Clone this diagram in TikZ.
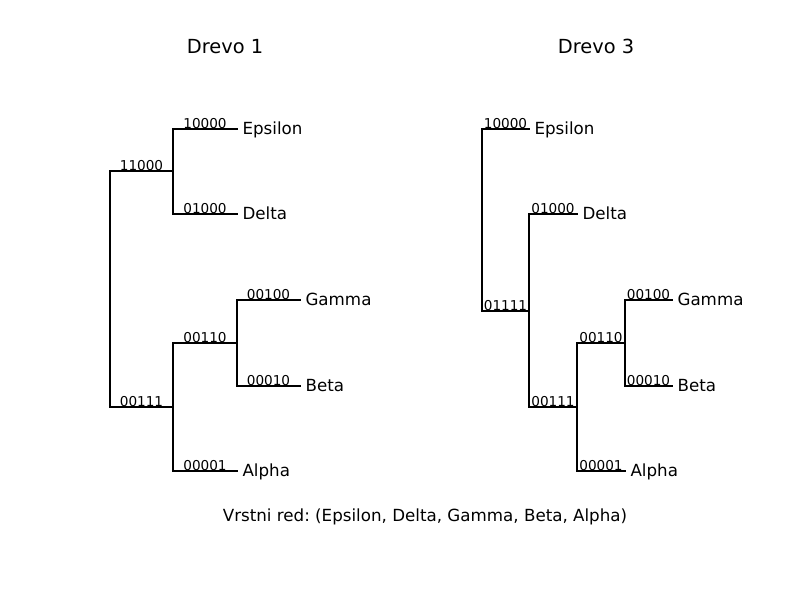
\documentclass[tikz,border=0pt]{standalone}
\usepackage{fontspec}
\setmainfont{DejaVu Sans}
\begin{document}
\frenchspacing
\begin{tikzpicture}[x=1pt,y=-1pt,
  br/.style={line width=1.1pt,line cap=rect},
  blab/.style={anchor=base,inner sep=0pt,yshift=1pt,font=\fontsize{13.6}{16}\selectfont},
  leaf/.style={anchor=base west,inner sep=0pt,xshift=5pt,yshift=-5pt,font=\fontsize{16.7}{20}\selectfont},
  ttl/.style={anchor=base,inner sep=0pt,font=\fontsize{19.4}{23}\selectfont}]
\useasboundingbox (0,0) rectangle (800,600);
% titles
\node[ttl] (t1) at (225,53) {Drevo 1};
\node[ttl] (t3) at (596,53) {Drevo 3};
\node[leaf,anchor=base,xshift=0pt,yshift=0pt] (order) at (420,516) {Vrstni red: (Epsilon, Delta, Gamma, Beta, Alpha)};
% tree 1
\coordinate (r1) at (110,289);
\coordinate (a11000) at (173,171);
\coordinate (a00111) at (173,407);
\coordinate (aeps) at (237,129);
\coordinate (adel) at (237,214);
\coordinate (a00110) at (237,343);
\coordinate (aalp) at (237,471);
\coordinate (agam) at (300,300);
\coordinate (abet) at (300,386);
\draw[br] (r1) |- node[pos=.75,blab] (l11000) {11000} (a11000);
\draw[br] (r1) |- node[pos=.75,blab] (l00111) {00111} (a00111);
\draw[br] (a11000) |- node[pos=.75,blab] (l10000) {10000} (aeps) node[leaf] (neps) {Epsilon};
\draw[br] (a11000) |- node[pos=.75,blab] (l01000) {01000} (adel) node[leaf] (ndel) {Delta};
\draw[br] (a00111) |- node[pos=.75,blab] (l00110) {00110} (a00110);
\draw[br] (a00111) |- node[pos=.75,blab] (l00001) {00001} (aalp) node[leaf] (nalp) {Alpha};
\draw[br] (a00110) |- node[pos=.75,blab] (l00100) {00100} (agam) node[leaf] (ngam) {Gamma};
\draw[br] (a00110) |- node[pos=.75,blab] (l00010) {00010} (abet) node[leaf] (nbet) {Beta};
% tree 3
\coordinate (r3) at (482,220);
\coordinate (beps) at (529,129);
\coordinate (b01111) at (529,311);
\coordinate (bdel) at (577,214);
\coordinate (b00111) at (577,407);
\coordinate (b00110) at (625,343);
\coordinate (balp) at (625,471);
\coordinate (bgam) at (672,300);
\coordinate (bbet) at (672,386);
\draw[br] (r3) |- node[pos=.75,blab] (m10000) {10000} (beps) node[leaf] (meps) {Epsilon};
\draw[br] (r3) |- node[pos=.75,blab] (m01111) {01111} (b01111);
\draw[br] (b01111) |- node[pos=.75,blab] (m01000) {01000} (bdel) node[leaf] (mdel) {Delta};
\draw[br] (b01111) |- node[pos=.75,blab] (m00111) {00111} (b00111);
\draw[br] (b00111) |- node[pos=.75,blab] (m00110) {00110} (b00110);
\draw[br] (b00111) |- node[pos=.75,blab] (m00001) {00001} (balp) node[leaf] (malp) {Alpha};
\draw[br] (b00110) |- node[pos=.75,blab] (m00100) {00100} (bgam) node[leaf] (mgam) {Gamma};
\draw[br] (b00110) |- node[pos=.75,blab] (m00010) {00010} (bbet) node[leaf] (mbet) {Beta};
\end{tikzpicture}
\end{document}
